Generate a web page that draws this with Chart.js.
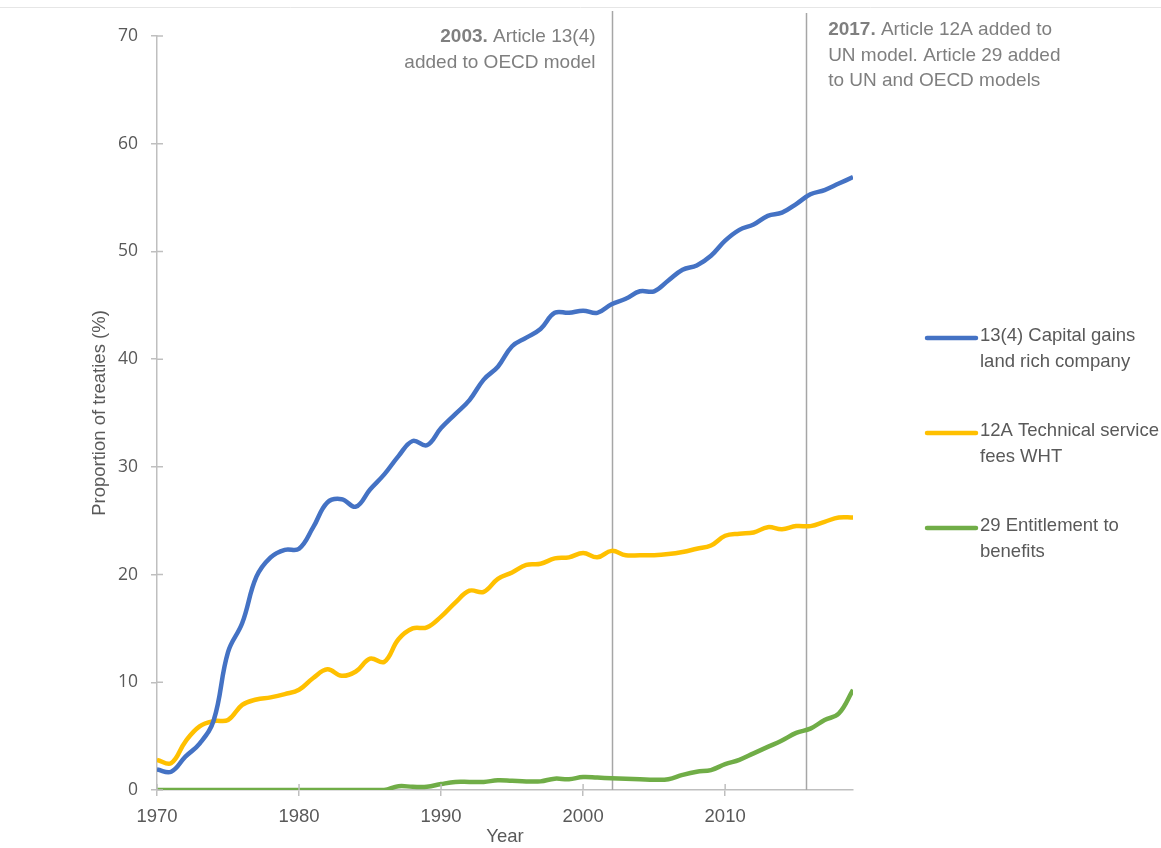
<!DOCTYPE html>
<html>
<head>
<meta charset="utf-8">
<script src="https://cdn.jsdelivr.net/npm/chart.js@4.4.1/dist/chart.umd.min.js"></script>
<style>
  html, body { margin: 0; padding: 0; background: #fff; }
  #wrap { width: 1161px; height: 848px; }
</style>
</head>
<body>
<div id="wrap"><canvas id="chart" width="1161" height="848"></canvas></div>
<script>
// ---- data ----
const years = [
  1970, 1971, 1972, 1973, 1974, 1975, 1976, 1977, 1978, 1979,
  1980, 1981, 1982, 1983, 1984, 1985, 1986, 1987, 1988, 1989,
  1990, 1991, 1992, 1993, 1994, 1995, 1996, 1997, 1998, 1999,
  2000, 2001, 2002, 2003, 2004, 2005, 2006, 2007, 2008, 2009,
  2010, 2011, 2012, 2013, 2014, 2015, 2016, 2017, 2018, 2019
];

const capitalGains = [
  1.9, 1.7, 3.1, 4.3, 6.5, 12.8, 15.5, 19.8, 21.6, 22.3,
  22.4, 24.4, 26.7, 27.0, 26.3, 27.9, 29.3, 31.0, 32.4, 32.0,
  33.6, 34.9, 36.2, 38.1, 39.3, 41.2, 42.0, 42.8, 44.3, 44.3,
  44.5, 44.3, 45.1, 45.6, 46.3, 46.3, 47.3, 48.3, 48.7, 49.6,
  51.0, 52.0, 52.5, 53.3, 53.6, 54.4, 55.3, 55.7, 56.3, 56.9
];

const technicalFees = [
  2.8, 2.5, 4.5, 5.9, 6.4, 6.5, 7.9, 8.4, 8.6, 8.9,
  9.3, 10.4, 11.2, 10.6, 11.0, 12.2, 11.9, 14.0, 15.0, 15.1,
  16.1, 17.4, 18.5, 18.4, 19.6, 20.2, 20.9, 21.0, 21.5, 21.6,
  22.0, 21.6, 22.2, 21.8, 21.8, 21.8, 21.9, 22.1, 22.4, 22.7,
  23.6, 23.8, 23.9, 24.4, 24.2, 24.5, 24.5, 24.9, 25.3, 25.3
];

const entitlement = [
  0, 0, 0, 0, 0, 0, 0, 0, 0, 0,
  0, 0, 0, 0, 0, 0, 0, 0.35, 0.3, 0.3,
  0.55, 0.75, 0.75, 0.75, 0.9, 0.85, 0.8, 0.8, 1.05, 1.0,
  1.2, 1.15, 1.1, 1.05, 1.0, 0.95, 1.0, 1.4, 1.7, 1.85,
  2.4, 2.8, 3.4, 4.0, 4.6, 5.3, 5.7, 6.5, 7.1, 9.3
];

const seriesNames = [
  ['13(4) Capital gains', 'land rich company'],
  ['12A Technical service', 'fees WHT'],
  ['29 Entitlement to', 'benefits']
];
const seriesColors = ['#4472C4', '#FFC000', '#70AD47'];

const xTickValues = [1970, 1980, 1990, 2000, 2010];
const yTickValues = [0, 10, 20, 30, 40, 50, 60, 70];

// vertical marker lines and their notes
const markerYears = [2002, 2015.7];
const markerNotes = [
  { bold: '2003.', lines: [' Article 13(4)', 'added to OECD model'], align: 'right' },
  { bold: '2017.', lines: [' Article 12A added to', 'UN model. Article 29 added', 'to UN and OECD models'], align: 'left' }
];

const FONT = '"Liberation Sans", Arial, sans-serif';
const TEXT = '#595959';
const AXIS = '#BFBFBF';

function toPoints(values) {
  return years.map((y, i) => ({ x: y, y: values[i] }));
}

// ---- plugins ----
// tick marks in the reference cross the axis line, chart.js only draws the outer half
const crossTicks = {
  id: 'crossTicks',
  afterDraw(chart) {
    const { ctx, chartArea, scales } = chart;
    ctx.save();
    ctx.strokeStyle = AXIS;
    ctx.lineWidth = 1.5;
    ctx.beginPath();
    xTickValues.forEach(v => {
      const px = scales.x.getPixelForValue(v);
      ctx.moveTo(px, chartArea.bottom);
      ctx.lineTo(px, chartArea.bottom - 6);
    });
    yTickValues.forEach(v => {
      const py = scales.y.getPixelForValue(v);
      ctx.moveTo(chartArea.left, py);
      ctx.lineTo(chartArea.left + 6, py);
    });
    ctx.stroke();
    ctx.restore();
  }
};

const markers = {
  id: 'markers',
  beforeDatasetsDraw(chart) {
    const { ctx, chartArea, scales } = chart;
    ctx.save();
    // thin frame edge at the top
    ctx.strokeStyle = '#E6E6E6';
    ctx.lineWidth = 1;
    ctx.beginPath();
    ctx.moveTo(0, 7.5);
    ctx.lineTo(chart.width, 7.5);
    ctx.stroke();

    ctx.strokeStyle = '#A6A6A6';
    ctx.lineWidth = 1.5;
    markerYears.forEach((yr, i) => {
      const px = Math.round(scales.x.getPixelForValue(yr)) + 0.5;
      ctx.beginPath();
      ctx.moveTo(px, i === 0 ? 11 : 13);
      ctx.lineTo(px, chartArea.bottom);
      ctx.stroke();
    });

    ctx.fillStyle = '#7F7F7F';
    ctx.textBaseline = 'middle';
    const lh = 25.5;
    const boldFont = 'bold 19px ' + FONT;
    const normFont = '19px ' + FONT;
    markerNotes.forEach((note, i) => {
      const px = scales.x.getPixelForValue(markerYears[i]);
      const top = note.align === 'right' ? 37 : 30;
      ctx.font = boldFont;
      const bw = ctx.measureText(note.bold).width;
      ctx.font = normFont;
      if (note.align === 'right') {
        const xr = px - 16;
        const w1 = ctx.measureText(note.lines[0]).width;
        ctx.textAlign = 'left';
        ctx.font = boldFont;
        ctx.fillText(note.bold, xr - w1 - bw, top);
        ctx.font = normFont;
        ctx.fillText(note.lines[0], xr - w1, top);
        ctx.textAlign = 'right';
        for (let k = 1; k < note.lines.length; k++) ctx.fillText(note.lines[k], xr, top + k * lh);
      } else {
        const xl = px + 22;
        ctx.textAlign = 'left';
        ctx.font = boldFont;
        ctx.fillText(note.bold, xl, top);
        ctx.font = normFont;
        ctx.fillText(note.lines[0], xl + bw, top);
        for (let k = 1; k < note.lines.length; k++) ctx.fillText(note.lines[k], xl, top + k * lh);
      }
    });
    ctx.restore();
  }
};

const sideLegend = {
  id: 'sideLegend',
  afterDraw(chart) {
    const { ctx } = chart;
    const rows = [336, 431, 526];
    ctx.save();
    ctx.font = '18.5px ' + FONT;
    ctx.fillStyle = TEXT;
    ctx.textAlign = 'left';
    ctx.textBaseline = 'middle';
    chart.data.datasets.forEach((ds, i) => {
      const y = rows[i];
      ctx.strokeStyle = ds.borderColor;
      ctx.lineWidth = 4.5;
      ctx.lineCap = 'round';
      ctx.beginPath();
      ctx.moveTo(927, y + 2);
      ctx.lineTo(976, y + 2);
      ctx.stroke();
      ds.label.forEach((t, k) => ctx.fillText(t, 980, y + k * 26));
    });
    ctx.restore();
  }
};

// ---- chart ----
const ctx = document.getElementById('chart').getContext('2d');
new Chart(ctx, {
  type: 'line',
  data: {
    datasets: [capitalGains, technicalFees, entitlement].map((vals, i) => ({
      label: seriesNames[i],
      data: toPoints(vals),
      borderColor: seriesColors[i],
      backgroundColor: seriesColors[i],
      borderWidth: 4.5,
      pointRadius: 0,
      tension: 0.4,
      fill: false
    }))
  },
  options: {
    responsive: false,
    animation: false,
    layout: { padding: { left: 0, top: 36, right: 308, bottom: 0 } },
    plugins: {
      legend: { display: false },
      tooltip: { enabled: false }
    },
    scales: {
      x: {
        type: 'linear',
        min: 1970,
        max: 2019,
        afterBuildTicks: s => { s.ticks = xTickValues.map(v => ({ value: v })); },
        afterFit: s => { s.height = 58; },
        ticks: {
          color: TEXT,
          font: { family: FONT, size: 18.5 },
          padding: 10,
          maxRotation: 0,
          callback: v => String(v)
        },
        grid: { drawOnChartArea: false, color: AXIS, lineWidth: 1.5, tickLength: 6 },
        border: { color: AXIS, width: 1.5 },
        title: {
          display: true,
          text: 'Year',
          color: TEXT,
          font: { family: FONT, size: 18.5 },
          padding: { top: 0, bottom: 0 }
        }
      },
      y: {
        min: 0,
        max: 70,
        afterBuildTicks: s => { s.ticks = yTickValues.map(v => ({ value: v })); },
        afterFit: s => { s.width = 157; },
        ticks: {
          color: TEXT,
          font: { family: '"Open Sans", sans-serif', size: 17.5 },
          padding: 13
        },
        grid: { drawOnChartArea: false, color: AXIS, lineWidth: 1.5, tickLength: 6 },
        border: { color: AXIS, width: 1.5 },
        title: {
          display: true,
          text: 'Proportion of treaties (%)',
          color: TEXT,
          font: { family: FONT, size: 18.5 },
          padding: { top: 89, bottom: 0 }
        }
      }
    }
  },
  plugins: [markers, crossTicks, sideLegend]
});
</script>
</body>
</html>
